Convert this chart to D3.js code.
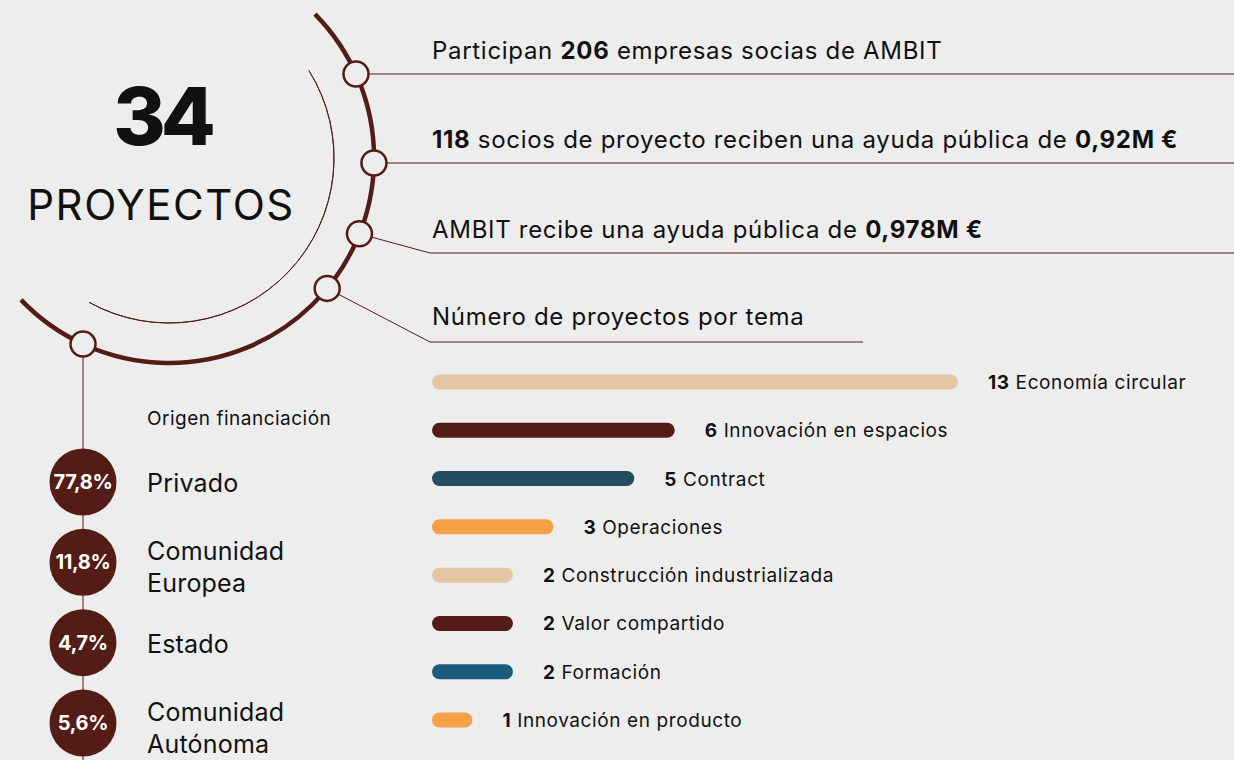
<!DOCTYPE html>
<html>
<head>
<meta charset="utf-8">
<script src="https://cdn.jsdelivr.net/npm/d3@7"></script>
<style>
	html, body { margin:0; padding:0; background:#ededed; }
	svg { display:block; font-family: Inter, "Noto Sans", sans-serif; }
</style>
</head>
<body>
<div id="chartplace"></div>
<script>
// datos
var totalProyectos = "34";
var tituloProyectos = "PROYECTOS";

var datosClave = [
	[["Participan ", false], ["206", true], [" empresas socias de AMBIT", false]],
	[["118", true], [" socios de proyecto reciben una ayuda pública de ", false], ["0,92M €", true]],
	[["AMBIT recibe una ayuda pública de ", false], ["0,978M €", true]],
	[["Número de proyectos por tema", false]]
];

var temas = ["Economía circular", "Innovación en espacios", "Contract", "Operaciones",
	"Construcción industrializada", "Valor compartido", "Formación", "Innovación en producto"];
var proyectos = [13, 6, 5, 3, 2, 2, 2, 1];

var tituloOrigen = "Origen financiación";
var origenes = [["Privado"], ["Comunidad", "Europea"], ["Estado"], ["Comunidad", "Autónoma"]];
var porcentajes = ["77,8%", "11,8%", "4,7%", "5,6%"];

// estilos
var temaColores = ["#e2c7a2", "#531c16", "#244d62", "#f59f47", "#e2c7a2", "#531c16", "#1a5a7c", "#f59f47"];
var marron = "#531c16";
var fondo = "#ededed";
var texto = "#111111";

var width = 1234, height = 760;
var svg = d3.select("#chartplace").append("svg")
	.attr("width", width).attr("height", height);

svg.append("rect").attr("width", width).attr("height", height).attr("fill", fondo);

// arcos
var cx = 169, cy = 158;
var rad = function(deg){ return deg * Math.PI / 180; };
// d3.arc mide el angulo desde las 12 en sentido horario
var toD3 = function(deg){ return rad(deg + 90); };

var g = svg.append("g").attr("transform", "translate(" + cx + "," + cy + ")");

var arcoGrande = d3.arc().innerRadius(205).outerRadius(205)
	.startAngle(toD3(-44.6)).endAngle(toD3(136.2));
g.append("path").attr("d", arcoGrande())
	.attr("fill", "none").attr("stroke", marron)
	.attr("stroke-width", 4.5).attr("stroke-linecap", "round");

var arcoFino = d3.arc().innerRadius(165).outerRadius(165)
	.startAngle(toD3(-32)).endAngle(toD3(119));
g.append("path").attr("d", arcoFino())
	.attr("fill", "none").attr("stroke", marron).attr("stroke-width", 1);

// nodos del arco
var nodoAng = [-24.2, 1.4, 21.7, 39.5];
var lineaY = [74, 163, 253, 342];
var lineaFin = [width, width, width, 863];
var punto = function(a, r){ return [cx + r * Math.cos(rad(a)), cy + r * Math.sin(rad(a))]; };

nodoAng.forEach(function(a, i){
	var p = punto(a, 205);
	var pts = [];
	if(i < 2){
		pts = [[p[0], lineaY[i]], [lineaFin[i], lineaY[i]]];
	}else{
		pts = [p, [430, lineaY[i]], [lineaFin[i], lineaY[i]]];
	}
	svg.append("path").attr("d", d3.line()(pts))
		.attr("fill", "none").attr("stroke", marron).attr("stroke-width", 1);
});

// linea vertical al origen de financiacion
var nodoAbajo = punto(114.8, 205);
svg.append("line")
	.attr("x1", 83).attr("y1", nodoAbajo[1]).attr("x2", 83).attr("y2", height)
	.attr("stroke", marron).attr("stroke-width", 1);

nodoAng.concat([114.8]).forEach(function(a){
	var p = punto(a, 205);
	svg.append("circle").attr("cx", p[0]).attr("cy", p[1]).attr("r", 12.5)
		.attr("fill", fondo).attr("stroke", marron).attr("stroke-width", 2.5);
});

// titulo central
svg.append("text").attr("x", 162).attr("y", 145).attr("text-anchor", "middle")
	.attr("font-size", 80).attr("font-weight", 800).attr("fill", texto)
	.attr("letter-spacing", -5).text(totalProyectos);
svg.append("text").attr("x", 161).attr("y", 220).attr("text-anchor", "middle")
	.attr("font-size", 42).attr("font-weight", 400).attr("fill", texto)
	.attr("letter-spacing", 1.5).text(tituloProyectos);

// textos de datos clave
var baseY = [59, 148, 238, 325];
datosClave.forEach(function(partes, i){
	var t = svg.append("text").attr("x", 432).attr("y", baseY[i])
		.attr("font-size", 24).attr("letter-spacing", 0.7).attr("fill", texto);
	partes.forEach(function(p){
		t.append("tspan").attr("font-weight", p[1] ? 700 : 400).text(p[0]);
	});
});

// barras por tema
var x = d3.scaleLinear().domain([0, 13]).range([0, 526]);
var y = d3.scalePoint().domain(temas).range([382, 720]);
var barH = 15;

var fila = svg.selectAll(".tema").data(temas).enter()
	.append("g").attr("class", "tema");
fila.append("rect")
	.attr("x", 432)
	.attr("y", function(d){ return y(d) - barH / 2; })
	.attr("width", function(d, i){ return x(proyectos[i]); })
	.attr("height", barH)
	.attr("rx", barH / 2)
	.attr("fill", function(d, i){ return temaColores[i]; });
var lab = fila.append("text")
	.attr("x", function(d, i){ return 432 + x(proyectos[i]) + 30; })
	.attr("y", function(d){ return y(d) + 7; })
	.attr("font-size", 19).attr("letter-spacing", 0.6).attr("fill", texto);
lab.append("tspan").attr("font-weight", 700).text(function(d, i){ return proyectos[i]; });
lab.append("tspan").text(function(d){ return " " + d; });

// origen de la financiacion
svg.append("text").attr("x", 147).attr("y", 425)
	.attr("font-size", 19).attr("letter-spacing", 0.5).attr("fill", texto).text(tituloOrigen);

var yo = d3.scalePoint().domain(d3.range(origenes.length)).range([482, 723]);
var fin = svg.selectAll(".origen").data(origenes).enter()
	.append("g").attr("class", "origen");
fin.append("circle")
	.attr("cx", 83).attr("cy", function(d, i){ return yo(i); })
	.attr("r", 33.5).attr("fill", marron);
fin.append("text")
	.attr("x", 83).attr("y", function(d, i){ return yo(i) + 7; })
	.attr("text-anchor", "middle").attr("font-size", 20).attr("font-weight", 700)
	.attr("fill", "#ffffff").attr("letter-spacing", -0.3)
	.text(function(d, i){ return porcentajes[i]; });
fin.each(function(d, i){
	var t = d3.select(this).append("text").attr("x", 147)
		.attr("font-size", 25).attr("letter-spacing", 0.2).attr("fill", texto);
	var y0 = d.length === 1 ? yo(i) + 10 : yo(i) - 2;
	d.forEach(function(linea, k){
		t.append("tspan").attr("x", 147).attr("y", y0 + k * 32).text(linea);
	});
});
</script>
</body>
</html>
